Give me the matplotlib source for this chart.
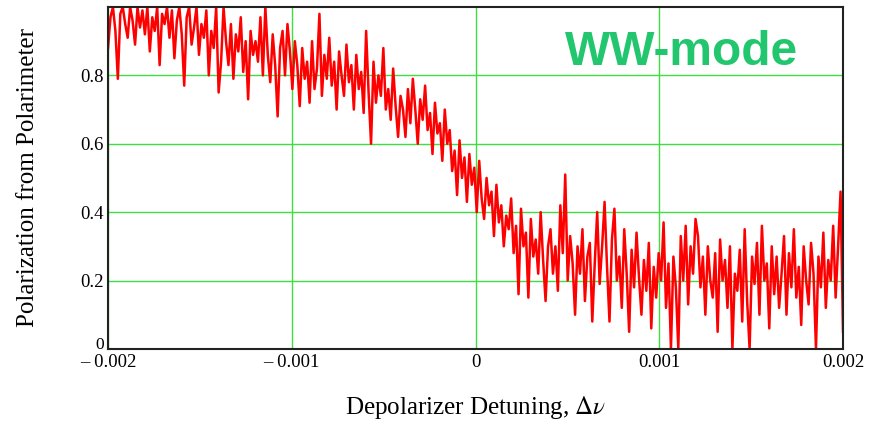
import matplotlib
matplotlib.use("Agg")
import matplotlib.pyplot as plt
import matplotlib.transforms as mtransforms
import numpy as np

plt.rcParams["mathtext.fontset"] = "stix"

# polarization, left to right, five stretches of 0.0008 each
seg1 = [0.88, 0.97, 1.0, 0.93, 0.79, 0.98, 1.0, 0.95, 0.91, 1.0, 0.96, 0.89, 1.0, 0.94, 0.99,
        0.92, 1.0, 0.87, 0.97, 0.93, 1.0, 0.83, 0.98, 0.95, 1.0, 0.91, 0.99, 0.85, 0.96, 1.0,
        0.92, 0.77, 0.97, 1.0, 0.89, 0.94, 1.0, 0.86, 0.95, 0.91, 0.99, 0.8, 0.93, 0.88, 1.0,
        0.75, 0.84, 1.0, 0.9, 0.83, 0.95, 0.79, 0.92, 0.87, 0.97, 0.81, 0.9, 0.73, 0.93, 0.86]
seg2 = [0.9, 0.84, 0.97, 0.8, 1.0, 0.86, 0.78, 0.92, 0.83, 0.68, 0.88, 0.93, 0.8, 0.95, 0.87,
        0.76, 0.9, 0.83, 0.71, 0.88, 0.79, 0.84, 0.72, 0.9, 0.76, 0.82, 0.98, 0.74, 0.86, 0.79,
        0.91, 0.77, 0.84, 0.7, 0.87, 0.8, 0.74, 0.89, 0.78, 0.83, 0.7, 0.86, 0.76, 0.81, 0.69,
        0.93, 0.75, 0.6, 0.84, 0.72, 0.8, 0.74, 0.88, 0.7, 0.76, 0.67, 0.82, 0.71, 0.62, 0.74]
seg3 = [0.7, 0.62, 0.76, 0.66, 0.79, 0.7, 0.6, 0.73, 0.67, 0.77, 0.64, 0.69, 0.57, 0.72, 0.63,
        0.66, 0.55, 0.7, 0.6, 0.64, 0.52, 0.58, 0.45, 0.61, 0.5, 0.56, 0.43, 0.57, 0.48, 0.53,
        0.4, 0.55, 0.44, 0.38, 0.5, 0.42, 0.46, 0.33, 0.48, 0.37, 0.42, 0.3, 0.39, 0.35, 0.44,
        0.28, 0.36, 0.16, 0.41, 0.3, 0.34, 0.15, 0.38, 0.27, 0.32, 0.22, 0.4, 0.26, 0.14, 0.3]
seg4 = [0.35, 0.22, 0.3, 0.17, 0.42, 0.28, 0.51, 0.2, 0.33, 0.25, 0.1, 0.3, 0.22, 0.35, 0.14,
        0.27, 0.31, 0.08, 0.25, 0.4, 0.19, 0.3, 0.43, 0.24, 0.08, 0.32, 0.41, 0.2, 0.27, 0.12,
        0.35, 0.22, 0.05, 0.29, 0.18, 0.34, 0.21, 0.1, 0.26, 0.17, 0.31, 0.06, 0.24, 0.15, 0.28,
        0.2, 0.37, 0.12, 0.25, 0.0, 0.27, 0.18, 0.0, 0.33, 0.2, 0.36, 0.13, 0.3, 0.22, 0.38]
seg5 = [0.33, 0.18, 0.27, 0.1, 0.3, 0.2, 0.15, 0.28, 0.05, 0.32, 0.2, 0.26, 0.12, 0.3, 0.0,
        0.22, 0.17, 0.29, 0.08, 0.35, 0.14, 0.0, 0.27, 0.19, 0.31, 0.1, 0.36, 0.2, 0.25, 0.06,
        0.3, 0.16, 0.27, 0.12, 0.22, 0.33, 0.1, 0.28, 0.18, 0.35, 0.15, 0.24, 0.07, 0.3, 0.2,
        0.13, 0.31, 0.22, 0.0, 0.27, 0.18, 0.34, 0.12, 0.26, 0.2, 0.36, 0.15, 0.3, 0.46, 0.05]
polarization = seg1 + seg2 + seg3 + seg4 + seg5

det_start, det_stop = -0.002, 0.002
xticks = [-0.002, -0.001, 0, 0.001, 0.002]
xticklabels = ["\u2013 0.002", "\u2013 0.001", "0", "0.001", "0.002"]
yticks = [0, 0.2, 0.4, 0.6, 0.8]
yticklabels = ["0", "0.2", "0.4", "0.6", "0.8"]

detuning = np.linspace(det_start, det_stop, len(polarization))

serif = ["Liberation Serif", "DejaVu Serif"]

fig = plt.figure(figsize=(8.69, 4.26), dpi=100)
ax = fig.add_axes([0.1243, 0.181, 0.8458, 0.8026])

ax.plot(detuning, polarization, color="#ff0000", lw=1.8, zorder=3)

ax.set_xlim(det_start, det_stop)
ax.set_ylim(0, 1.0)
ax.set_xticks(xticks)
ax.set_xticklabels(xticklabels, family=serif, fontsize=13.5)
ax.set_yticks(yticks)
ax.set_yticklabels(yticklabels, family=serif, fontsize=13.5)
ax.tick_params(length=0)
ax.tick_params(axis="x", pad=4)
ax.tick_params(axis="y", pad=3)
ax.grid(True, color="#3ee03e", lw=1.0, zorder=1)

# the "0" on the y axis sits a bit higher so it clears "– 0.002"
zero_lbl = ax.get_yticklabels()[0]
zero_lbl.set_transform(zero_lbl.get_transform() +
                       mtransforms.ScaledTranslation(0, 4 / 72, fig.dpi_scale_trans))
zero_lbl.set_fontsize(12.5)

for s in ax.spines.values():
    s.set_color("#222222")
    s.set_linewidth(1.5)
    s.set_zorder(4)

ax.set_xlabel("Depolarizer Detuning, $\\Delta\\nu$", family=serif, fontsize=18, labelpad=16)
ax.set_ylabel("Polarization from Polarimeter", family=serif, fontsize=18, labelpad=30)

ax.text(0.78, 0.866, "WW-mode", transform=ax.transAxes, ha="center", va="center",
        family=["Liberation Sans", "DejaVu Sans"], fontweight="bold", fontsize=34.5,
        color="#22c66e", zorder=5)

fig.savefig("out.png", dpi=100)
